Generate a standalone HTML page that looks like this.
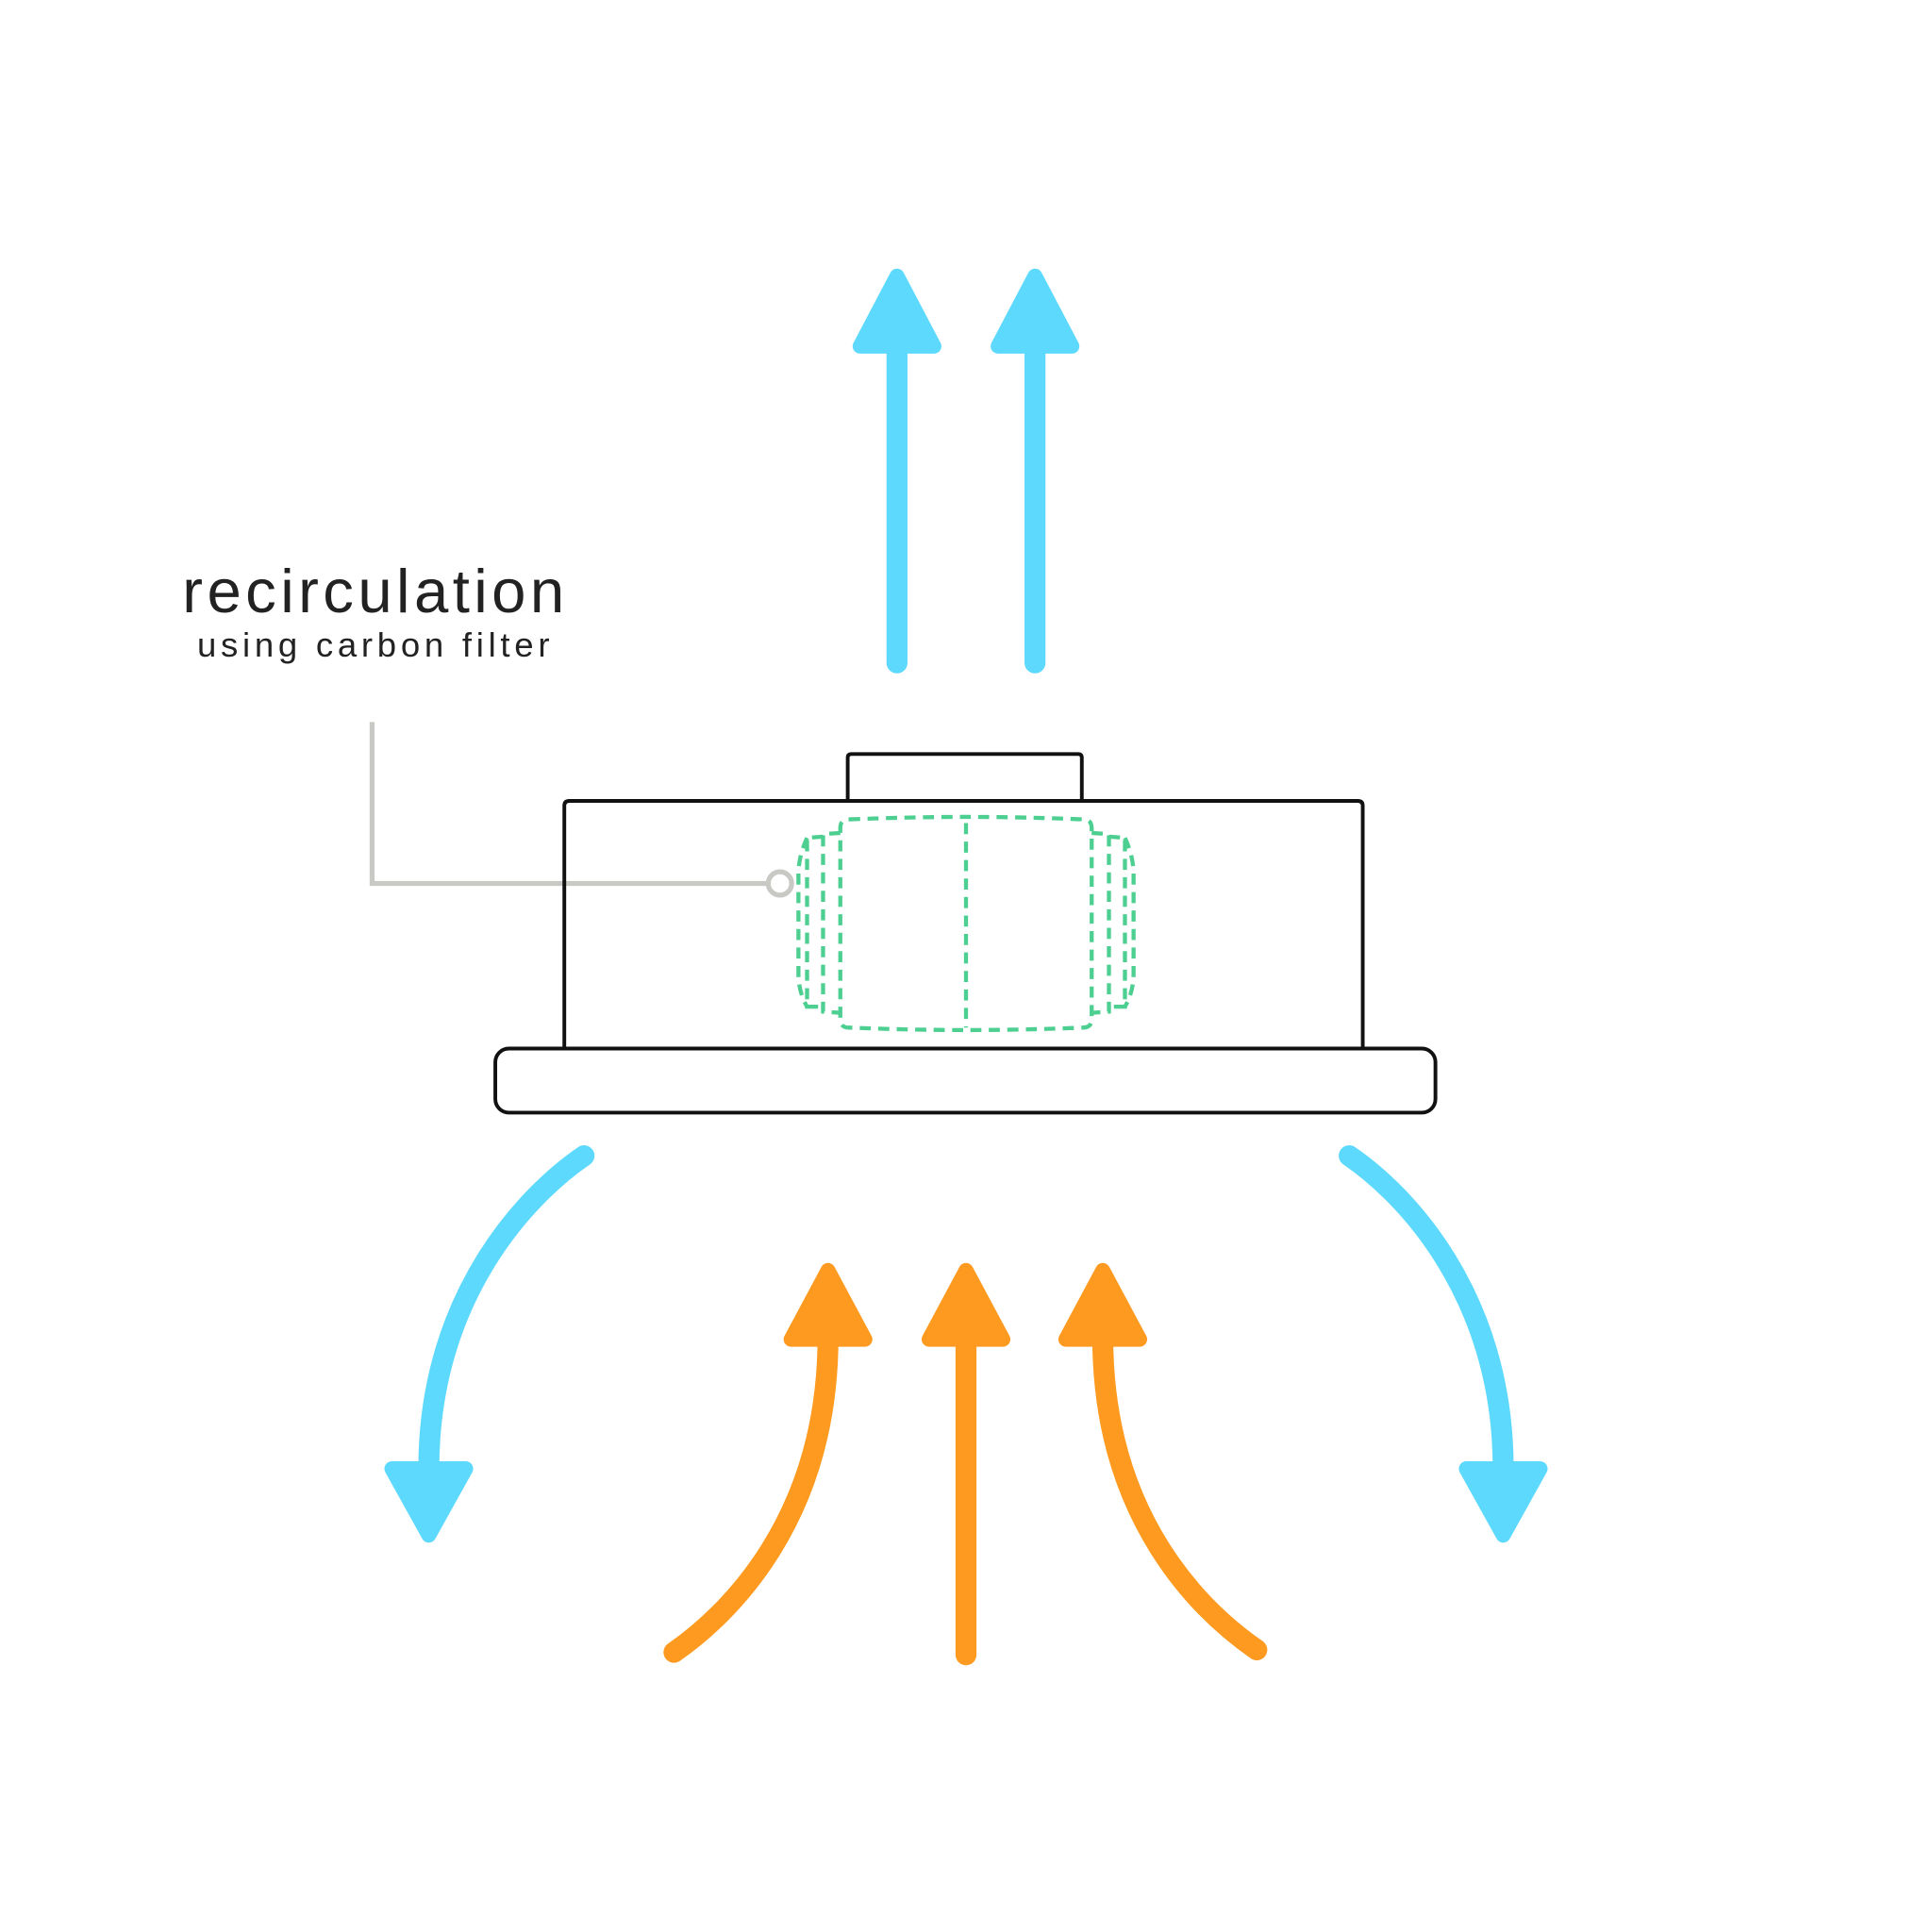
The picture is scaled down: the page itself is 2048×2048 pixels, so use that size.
<!DOCTYPE html>
<html><head><style>html,body{margin:0;padding:0;background:#fff}svg{display:block}</style></head>
<body>
<svg width="2048" height="2048" viewBox="0 0 1568 1568" xmlns="http://www.w3.org/2000/svg">
<rect width="1568" height="1568" fill="#fff"/>
<text x="148" y="497" textLength="310" lengthAdjust="spacing" font-family="Liberation Sans, sans-serif" font-size="50" fill="#222">recirculation</text>
<text x="160" y="533" textLength="286" lengthAdjust="spacing" font-family="Liberation Sans, sans-serif" font-size="28" fill="#222">using carbon filter</text>
<polyline points="302,586 302,717 623,717" fill="none" stroke="#c8c9c4" stroke-width="4"/>
<circle cx="633" cy="717" r="9.5" fill="#fff" stroke="#c8c9c4" stroke-width="4"/>
<g fill="none" stroke="#111" stroke-width="3">
<path d="M688,650 V615 Q688,612 691,612 H875 Q878,612 878,615 V650"/>
<path d="M458,851 V654 Q458,650 462,650 H1102 Q1106,650 1106,654 V851"/>
<rect x="402" y="851" width="763" height="52" rx="11"/>
</g>
<g fill="none" stroke="#4ccf90" stroke-width="3.3" stroke-dasharray="9,6">
<path d="M689,665 Q740,663 784,663 Q830,663 879,665 Q886,665 886,672 V827 Q886,834 879,834 Q830,836 784,836 Q740,836 689,834 Q682,834 682,827 V672 Q682,665 689,665 Z"/>
<line x1="784" y1="668" x2="784" y2="834"/>
<polyline points="682,676 668,677 668,821 682,822"/>
<polyline points="668,679 655,680 655,817 668,817"/>
<path d="M655,680 Q648,695 648,710 V790 Q648,805 655,817"/>
<polyline points="886,676 900,677 900,821 886,822"/>
<polyline points="900,679 913,680 913,817 900,817"/>
<path d="M913,680 Q920,695 920,710 V790 Q920,805 913,817"/>
</g>
<g stroke="#5cd9fd" fill="#5cd9fd" stroke-linejoin="round" stroke-linecap="round">
<line x1="728" y1="538" x2="728" y2="280" stroke-width="17"/>
<polygon points="728,224 758,281 698,281" stroke-width="12"/>
<line x1="840" y1="538" x2="840" y2="280" stroke-width="17"/>
<polygon points="840,224 870,281 810,281" stroke-width="12"/>
<path d="M474,938 C430,968 348,1050 348,1192" fill="none" stroke-width="17"/>
<polygon points="348,1246 378,1192 318,1192" stroke-width="12"/>
<path d="M1095,938 C1139,968 1220,1050 1220,1192" fill="none" stroke-width="17"/>
<polygon points="1220,1246 1250,1192 1190,1192" stroke-width="12"/>
</g>
<g stroke="#fd9a1f" fill="#fd9a1f" stroke-linejoin="round" stroke-linecap="round">
<line x1="784" y1="1343" x2="784" y2="1085" stroke-width="17"/>
<polygon points="784,1031 814,1087 754,1087" stroke-width="12"/>
<path d="M547,1341 C590,1311 672,1234 672,1085" fill="none" stroke-width="17"/>
<polygon points="672,1031 702,1087 642,1087" stroke-width="12"/>
<path d="M1020,1339 C977,1309 895,1234 895,1085" fill="none" stroke-width="17"/>
<polygon points="895,1031 925,1087 865,1087" stroke-width="12"/>
</g>
</svg>
</body></html>
